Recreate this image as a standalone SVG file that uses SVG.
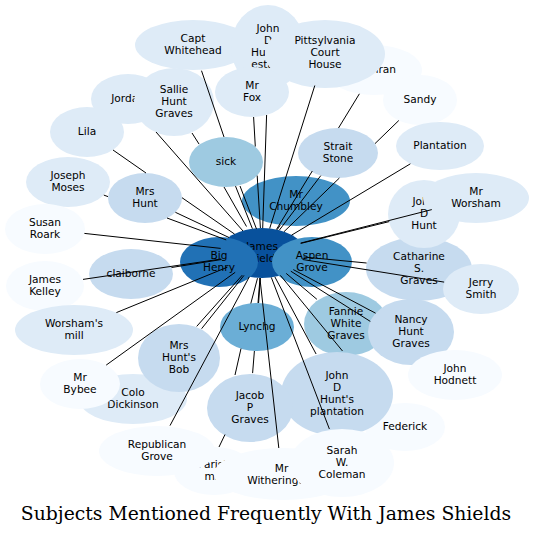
<svg xmlns="http://www.w3.org/2000/svg" width="533" height="536" viewBox="0 0 533 536">
<style>
text{font-family:"DejaVu Sans","Liberation Sans",sans-serif;font-size:10.6px;text-anchor:middle;fill:#000}
.title{font-family:"DejaVu Serif","Liberation Serif",serif;font-size:18.8px}
.c1{fill:#08519c}.c2{fill:#2171b5}.c3{fill:#4292c6}.c4{fill:#6baed6}.c5{fill:#9ecae1}.c6{fill:#c6dbef}.c7{fill:#deebf7}.c8{fill:#f7fbff}
#edges path{stroke:#000;stroke-width:1;fill:none}
</style>
<rect width="533" height="536" fill="#fff"/>
<g id="nodes">
<g id="james-shields"><ellipse class="c1" cx="262" cy="253" rx="43" ry="25"/><text x="262" y="250">James</text><text x="262" y="262">Shields</text></g>
<g id="big-henry"><ellipse class="c2" cx="219" cy="262" rx="39" ry="25"/><text x="219" y="259">Big</text><text x="219" y="271">Henry</text></g>
<g id="aspen-grove"><ellipse class="c3" cx="312" cy="262" rx="40" ry="25"/><text x="312" y="259">Aspen</text><text x="312" y="271">Grove</text></g>
<g id="mr-chumbley"><ellipse class="c3" cx="296" cy="201" rx="54" ry="25"/><text x="296" y="198">Mr</text><text x="296" y="210">Chumbley</text></g>
<g id="capt-whitehead"><ellipse class="c7" cx="193" cy="45" rx="58" ry="25"/><text x="193" y="42">Capt</text><text x="193" y="54">Whitehead</text></g>
<g id="john-d-hunts-estate"><ellipse class="c7" cx="268" cy="47" rx="37" ry="42"/><text x="268" y="32">John</text><text x="268" y="44">D</text><text x="268" y="56">Hunt's</text><text x="268" y="68">estate</text></g>
<g id="cochran"><ellipse class="c8" cx="374" cy="70" rx="48" ry="25"/><text x="374" y="73">Cochran</text></g>
<g id="pittsylvania-court-house"><ellipse class="c7" cx="325" cy="54" rx="60" ry="34"/><text x="325" y="44">Pittsylvania</text><text x="325" y="56">Court</text><text x="325" y="68">House</text></g>
<g id="mr-fox"><ellipse class="c7" cx="252" cy="92" rx="37" ry="25"/><text x="252" y="89">Mr</text><text x="252" y="101">Fox</text></g>
<g id="jordan"><ellipse class="c7" cx="128" cy="99" rx="37" ry="25"/><text x="128" y="102">Jordan</text></g>
<g id="sallie-hunt-graves"><ellipse class="c7" cx="174" cy="102" rx="40" ry="34"/><text x="174" y="93">Sallie</text><text x="174" y="105">Hunt</text><text x="174" y="117">Graves</text></g>
<g id="lila"><ellipse class="c7" cx="87" cy="132" rx="37" ry="25"/><text x="87" y="135">Lila</text></g>
<g id="sick"><ellipse class="c5" cx="226" cy="162" rx="37" ry="25"/><text x="226" y="165">sick</text></g>
<g id="strait-stone"><ellipse class="c6" cx="338" cy="153" rx="40" ry="25"/><text x="338" y="150">Strait</text><text x="338" y="162">Stone</text></g>
<g id="sandy"><ellipse class="c8" cx="420" cy="100" rx="37" ry="25"/><text x="420" y="103">Sandy</text></g>
<g id="plantation"><ellipse class="c7" cx="440" cy="146" rx="44" ry="24"/><text x="440" y="149">Plantation</text></g>
<g id="catharine-s-graves"><ellipse class="c6" cx="419" cy="269" rx="53" ry="32"/><text x="419" y="260">Catharine</text><text x="419" y="272">S.</text><text x="419" y="284">Graves</text></g>
<g id="john-d-hunt"><ellipse class="c7" cx="424" cy="214" rx="36" ry="34"/><text x="424" y="205">John</text><text x="424" y="217">D</text><text x="424" y="229">Hunt</text></g>
<g id="mr-worsham"><ellipse class="c7" cx="476" cy="198" rx="53" ry="25"/><text x="476" y="195">Mr</text><text x="476" y="207">Worsham</text></g>
<g id="jerry-smith"><ellipse class="c7" cx="481" cy="289" rx="38" ry="25"/><text x="481" y="286">Jerry</text><text x="481" y="298">Smith</text></g>
<g id="joseph-moses"><ellipse class="c7" cx="68" cy="182" rx="42" ry="25"/><text x="68" y="179">Joseph</text><text x="68" y="191">Moses</text></g>
<g id="mrs-hunt"><ellipse class="c6" cx="145" cy="198" rx="37" ry="25"/><text x="145" y="195">Mrs</text><text x="145" y="207">Hunt</text></g>
<g id="susan-roark"><ellipse class="c8" cx="45" cy="229" rx="40" ry="25"/><text x="45" y="226">Susan</text><text x="45" y="238">Roark</text></g>
<g id="claiborne"><ellipse class="c6" cx="131" cy="274" rx="42" ry="25"/><text x="131" y="277">claiborne</text></g>
<g id="james-kelley"><ellipse class="c8" cx="45" cy="286" rx="39" ry="25"/><text x="45" y="283">James</text><text x="45" y="295">Kelley</text></g>
<g id="worshams-mill"><ellipse class="c7" cx="74" cy="330" rx="59" ry="25"/><text x="74" y="327">Worsham's</text><text x="74" y="339">mill</text></g>
<g id="colo-dickinson"><ellipse class="c7" cx="133" cy="399" rx="54" ry="25"/><text x="133" y="396">Colo</text><text x="133" y="408">Dickinson</text></g>
<g id="mr-bybee"><ellipse class="c8" cx="80" cy="384" rx="40" ry="25"/><text x="80" y="381">Mr</text><text x="80" y="393">Bybee</text></g>
<g id="mrs-hunts-bob"><ellipse class="c6" cx="179" cy="358" rx="41" ry="34"/><text x="179" y="349">Mrs</text><text x="179" y="361">Hunt's</text><text x="179" y="373">Bob</text></g>
<g id="lynchg"><ellipse class="c4" cx="257" cy="327" rx="37" ry="24"/><text x="257" y="330">Lynchg</text></g>
<g id="fannie-white-graves"><ellipse class="c5" cx="346" cy="324" rx="42" ry="32"/><text x="346" y="315">Fannie</text><text x="346" y="327">White</text><text x="346" y="339">Graves</text></g>
<g id="nancy-hunt-graves"><ellipse class="c6" cx="411" cy="332" rx="43" ry="33"/><text x="411" y="323">Nancy</text><text x="411" y="335">Hunt</text><text x="411" y="347">Graves</text></g>
<g id="john-hodnett"><ellipse class="c8" cx="455" cy="375" rx="47" ry="25"/><text x="455" y="372">John</text><text x="455" y="384">Hodnett</text></g>
<g id="federick"><ellipse class="c8" cx="405" cy="427" rx="40" ry="24"/><text x="405" y="430">Federick</text></g>
<g id="john-d-hunts-plantation"><ellipse class="c6" cx="337" cy="394" rx="56" ry="42"/><text x="337" y="379">John</text><text x="337" y="391">D</text><text x="337" y="403">Hunt's</text><text x="337" y="415">plantation</text></g>
<g id="jacob-p-graves"><ellipse class="c6" cx="250" cy="408" rx="43" ry="34"/><text x="250" y="399">Jacob</text><text x="250" y="411">P</text><text x="250" y="423">Graves</text></g>
<g id="parish-mill"><ellipse class="c8" cx="214" cy="471" rx="40" ry="24"/><text x="214" y="468">Parish</text><text x="214" y="480">mill</text></g>
<g id="republican-grove"><ellipse class="c8" cx="157" cy="451" rx="58" ry="25"/><text x="157" y="448">Republican</text><text x="157" y="460">Grove</text></g>
<g id="mr-witherington"><ellipse class="c8" cx="283" cy="474" rx="69" ry="26"/><text x="281.5" y="472">Mr</text><text x="281.5" y="484">Witherington</text></g>
<g id="sarah-w-coleman"><ellipse class="c8" cx="342" cy="463" rx="52" ry="34"/><text x="342" y="454">Sarah</text><text x="342" y="466">W.</text><text x="342" y="478">Coleman</text></g>
</g>
<g id="edges">
<path d="M201.5,70.7L224,137M240,186L256.5,229"/>
<path d="M192,133L199,144M224,187L246.5,226.5"/>
<path d="M156,132L243,231"/>
<path d="M113,150L146,173M182,197.7L234.6,234.1"/>
<path d="M103.8,195.1L108,196.6M167,218L226.2,239.9"/>
<path d="M175.4,212.3L229,237.5"/>
<path d="M84.4,233.4L220.7,248.4"/>
<path d="M171.5,267.5L221.5,259.5"/>
<path d="M83,279.4L221.2,259"/>
<path d="M116.4,312.6L227.4,267.2"/>
<path d="M106.2,365.1L235.2,272.3"/>
<path d="M196.7,326.4L242.3,275.1"/>
<path d="M201.6,328.7L244,275.4"/>
<path d="M170,425.6L249.3,276.8"/>
<path d="M219,447L225,434.5M235,375L241,348.5M250.8,303.5L257.5,278.2"/>
<path d="M252.6,373.1L254.4,351M258,303L260,278"/>
<path d="M258.6,303L260.3,278"/>
<path d="M278.8,448L259.9,278"/>
<path d="M329.4,429L271.3,277.4"/>
<path d="M316.1,354L274.8,276.8"/>
<path d="M342.5,351L280.4,275.4"/>
<path d="M370.3,321.4L290.8,271.2"/>
<path d="M375.6,313.2L293.3,269.6"/>
<path d="M316.9,299.3L286.2,273.4"/>
<path d="M444.1,282.1L302.6,259.5"/>
<path d="M366.6,263L303.5,257"/>
<path d="M389.2,221.6L300.8,243.4"/>
<path d="M431.8,209.6L300.6,243.1"/>
<path d="M410.4,163.8L291.5,235.2"/>
<path d="M398.8,120.5L375,143.6M339.4,178L284,231.7"/>
<path d="M320.8,175.6L279.3,230.2"/>
<path d="M359.4,93.8L338.5,128M312.3,171L276.4,229.5"/>
<path d="M280.4,224.9L277.2,229.7"/>
<path d="M314.8,85.5L269.7,228.4"/>
<path d="M266.6,115L262.7,228"/>
<path d="M253.6,117L255.3,146.5M257.2,175.6L260.4,228"/>
<path d="M235.5,186.1L252.4,228.7"/>
</g>
<text class="title" x="266" y="520">Subjects Mentioned Frequently With James Shields</text>
</svg>
